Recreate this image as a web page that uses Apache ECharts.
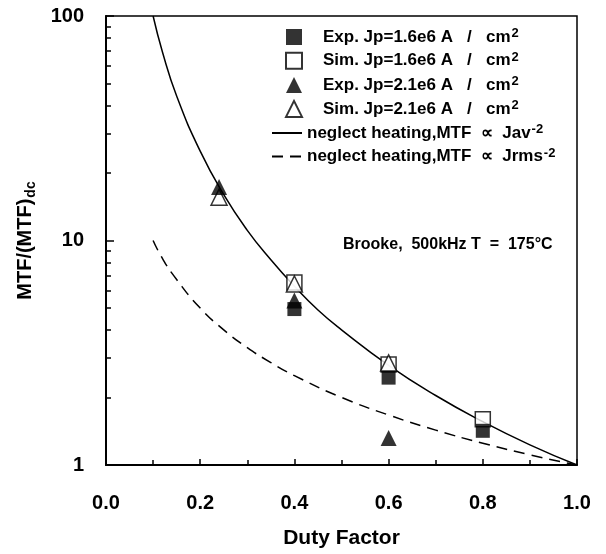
<!DOCTYPE html>
<html><head><meta charset="utf-8">
<script src="https://cdn.jsdelivr.net/npm/echarts@6/dist/echarts.min.js"></script>
<style>html,body{margin:0;padding:0;background:#fff}#c{width:606px;height:554px}</style>
</head><body><div id="c"></div>
<script>
// Data
const expJp16 = [[0.4, 4.95], [0.6, 2.45], [0.8, 1.42]];
const simJp16 = [[0.4, 6.5], [0.6, 2.8], [0.8, 1.6]];
const expJp21 = [[0.24, 17.3], [0.4, 5.4], [0.6, 1.32]];
const simJp21 = [[0.24, 15.6], [0.4, 6.4], [0.6, 2.85]];
const solidCurve = [[0.1, 100], [0.12, 69], [0.15, 44], [0.2, 25], [0.25, 16], [0.3, 11.1], [0.35, 8.2], [0.4, 6.25], [0.45, 4.9], [0.5, 4], [0.6, 2.78], [0.7, 2.04], [0.8, 1.56], [0.9, 1.23], [1.0, 1]];
const dashedCurve = [[0.1, 10], [0.12, 8.3], [0.15, 6.7], [0.2, 5], [0.25, 4], [0.3, 3.33], [0.35, 2.86], [0.4, 2.5], [0.5, 2], [0.6, 1.67], [0.7, 1.43], [0.8, 1.25], [0.9, 1.11], [1.0, 1]];
const xTicks = [0, 0.2, 0.4, 0.6, 0.8, 1.0];
const yMajor = [1, 10, 100];
const yMinor = [2, 3, 4, 5, 6, 7, 8, 9, 20, 30, 40, 50, 60, 70, 80, 90];
const names = ['Exp. Jp=1.6e6 A / cm2', 'Sim. Jp=1.6e6 A / cm2', 'Exp. Jp=2.1e6 A / cm2', 'Sim. Jp=2.1e6 A / cm2', 'neglect heating,MTF ∝ Jav-2', 'neglect heating,MTF ∝ Jrms-2'];
const legendRich = {
  [names[0]]: '{b|Exp. Jp=1.6e6 A   /   cm}{sup|2}',
  [names[1]]: '{b|Sim. Jp=1.6e6 A   /   cm}{sup|2}',
  [names[2]]: '{b|Exp. Jp=2.1e6 A   /   cm}{sup|2}',
  [names[3]]: '{b|Sim. Jp=2.1e6 A   /   cm}{sup|2}',
  [names[4]]: '{b|neglect heating,MTF  ∝  Jav}{sup|-2}',
  [names[5]]: '{b|neglect heating,MTF  ∝  Jrms}{sup|-2}'
};

const FONT = 'Liberation Sans, Arial, sans-serif';
const richStyles = {
  b: {fontFamily: FONT, fontSize: 17, fontWeight: 'bold', color: '#000', lineHeight: 20},
  sup: {fontFamily: FONT, fontSize: 13, fontWeight: 'bold', color: '#000', verticalAlign: 'top', lineHeight: 10, padding: [0, 0, 0, 1]}
};
const chart = echarts.init(document.getElementById('c'), null, {renderer: 'canvas'});
chart.setOption({
  animation: false,
  backgroundColor: '#fff',
  grid: {left: 106, right: 29, top: 16, bottom: 89, show: true, borderColor: '#000', borderWidth: 1.5, backgroundColor: 'transparent'},
  legend: [{
    orient: 'vertical', left: 285, top: 27, padding: 0, itemGap: 5.3, itemWidth: 16, itemHeight: 16,
    formatter: n => legendRich[n],
    textStyle: {padding: [0, 0, 0, 16], rich: richStyles},
    data: names.slice(0, 4)
  }, {
    orient: 'vertical', left: 271, top: 123, padding: 0, itemGap: 5, itemWidth: 30, itemHeight: 16,
    formatter: n => legendRich[n],
    textStyle: {padding: [0, 0, 0, 0], rich: richStyles},
    data: names.slice(4).map(n => ({name: n, itemStyle: {opacity: 0, color: 'rgba(0,0,0,0)', borderWidth: 0}}))
  }],
  xAxis: {
    type: 'value', min: 0, max: 1, interval: 0.2,
    axisLine: {show: true, onZero: false, lineStyle: {color: '#000', width: 2}},
    axisTick: {show: true, inside: true, length: 6, lineStyle: {color: '#000', width: 1.5}},
    minorTick: {show: true, splitNumber: 2, length: 5, lineStyle: {color: '#000', width: 1.5}},
    splitLine: {show: false},
    axisLabel: {margin: 28, fontFamily: FONT, fontSize: 20, fontWeight: 'bold', color: '#000', formatter: v => v.toFixed(1)},
    name: 'Duty Factor', nameLocation: 'middle', nameGap: 63,
    nameTextStyle: {fontFamily: FONT, fontSize: 21, fontWeight: 'bold', color: '#000'}
  },
  yAxis: [{
    type: 'log', min: 1, max: 100, logBase: 10,
    axisLine: {show: true, lineStyle: {color: '#000', width: 2}},
    axisTick: {show: true, inside: true, length: 8, customValues: yMajor, lineStyle: {color: '#000', width: 1.5}},
    splitLine: {show: false},
    axisLabel: {margin: 22, fontFamily: FONT, fontSize: 20, fontWeight: 'bold', color: '#000', customValues: yMajor},
    name: 'MTF/(MTF){sub|dc}', nameLocation: 'middle', nameGap: 68,
    nameTextStyle: {fontFamily: FONT, fontSize: 20, fontWeight: 'bold', color: '#000',
      rich: {sub: {fontFamily: FONT, fontSize: 14, fontWeight: 'bold', color: '#000', padding: [12, 0, 0, 1]}}}
  }, {
    type: 'log', min: 1, max: 100, logBase: 10, position: 'left',
    axisLine: {show: false},
    axisTick: {show: true, inside: true, length: 5, customValues: yMinor, lineStyle: {color: '#000', width: 1.5}},
    axisLabel: {show: false}, splitLine: {show: false}
  }],
  graphic: [{
    type: 'text', left: 343, top: 237,
    style: {text: 'Brooke,  500kHz T  =  175°C', font: 'bold 16px ' + FONT, fill: '#000'}
  }],
  series: [
    {name: names[4], type: 'line', data: solidCurve, smooth: true, showSymbol: false, symbol: 'none', itemStyle: {color: '#000'}, lineStyle: {color: '#000', width: 1.5}, z: 2},
    {name: names[5], type: 'line', data: dashedCurve, smooth: true, showSymbol: false, symbol: 'none', itemStyle: {color: '#000'}, lineStyle: {color: '#000', width: 1.5, type: [11, 7]}, z: 2},
    {name: names[1], type: 'scatter', data: simJp16, symbol: 'rect', symbolSize: 15, itemStyle: {color: '#fff', borderColor: '#000', borderWidth: 1.5}, z: 3},
    {name: names[0], type: 'scatter', data: expJp16, symbol: 'rect', symbolSize: 14, itemStyle: {color: '#000'}, z: 4},
    {name: names[3], type: 'scatter', data: simJp21, symbol: 'triangle', symbolSize: 16, itemStyle: {color: '#fff', borderColor: '#000', borderWidth: 1.5}, z: 5},
    {name: names[2], type: 'scatter', data: expJp21, symbol: 'triangle', symbolSize: 16, itemStyle: {color: '#000'}, z: 6}
  ]
});
</script></body></html>
